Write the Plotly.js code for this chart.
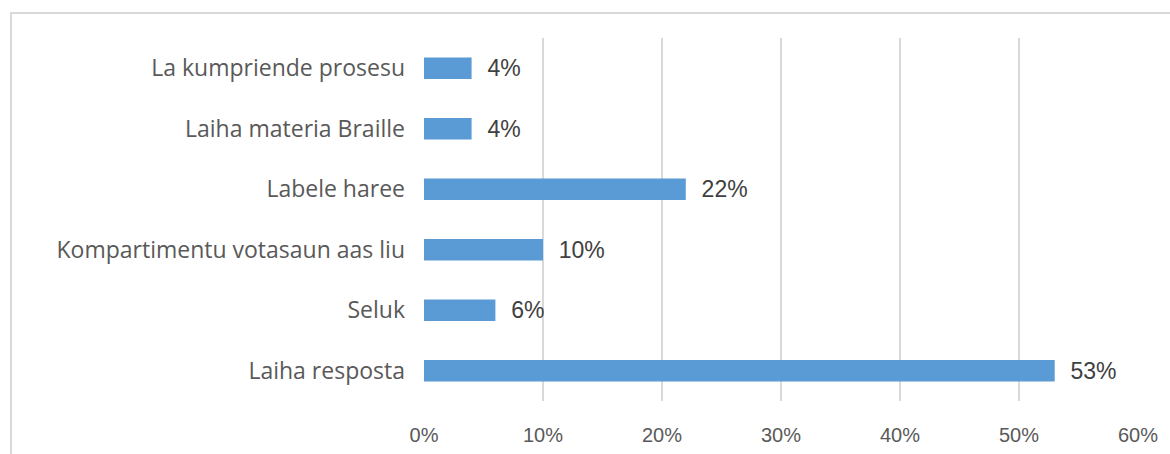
<!DOCTYPE html>
<html>
<head>
<meta charset="utf-8">
<script src="https://cdn.plot.ly/plotly-3.0.1.min.js"></script>
<style>
  html, body { margin: 0; padding: 0; background: #ffffff; overflow: hidden; }
  #frame { position: absolute; left: 10px; top: 12px; width: 1200px; height: 500px; border: 2px solid #d9d9d9; box-sizing: border-box; }
  #chart { position: absolute; left: 0; top: 0; width: 1170px; height: 454px; }
</style>
</head>
<body>
<div id="frame"></div>
<div id="chart"></div>
<script>
const categories = [
  "La kumpriende prosesu",
  "Laiha materia Braille",
  "Labele haree",
  "Kompartimentu votasaun aas liu",
  "Seluk",
  "Laiha resposta"
];
const values = [4, 4, 22, 10, 6, 53];
const tickValues = [0, 10, 20, 30, 40, 50, 60];
const tickLabels = ["0%", "10%", "20%", "30%", "40%", "50%", "60%"];

const trace = {
  type: "bar",
  orientation: "h",
  x: values,
  y: categories,
  marker: { color: "#5b9bd5" },
  text: values.map(v => "  " + v + "%"),
  textposition: "outside",
  constraintext: "none",
  cliponaxis: false,
  textfont: { family: "Liberation Sans, Arial, sans-serif", size: 23, color: "#404040" },
  hoverinfo: "none"
};

const layout = {
  width: 1170,
  height: 454,
  margin: { l: 424, r: 32, t: 38, b: 53 },
  paper_bgcolor: "rgba(0,0,0,0)",
  plot_bgcolor: "rgba(0,0,0,0)",
  bargap: 0.645,
  showlegend: false,
  xaxis: {
    range: [0, 60],
    tickvals: tickValues,
    ticktext: tickLabels,
    showgrid: true,
    gridcolor: "#d9d9d9",
    gridwidth: 1.5,
    zeroline: false,
    showline: false,
    ticks: "",
    ticklabelstandoff: 20,
    tickfont: { family: "Liberation Sans, Arial, sans-serif", size: 20, color: "#595959" },
    fixedrange: true
  },
  yaxis: {
    autorange: "reversed",
    showgrid: false,
    zeroline: false,
    showline: false,
    ticks: "",
    ticklabelstandoff: 18,
    tickfont: { family: "Open Sans, sans-serif", size: 23, color: "#595959" },
    fixedrange: true
  }
};

Plotly.newPlot("chart", [trace], layout, { displayModeBar: false, staticPlot: true });
</script>
</body>
</html>
